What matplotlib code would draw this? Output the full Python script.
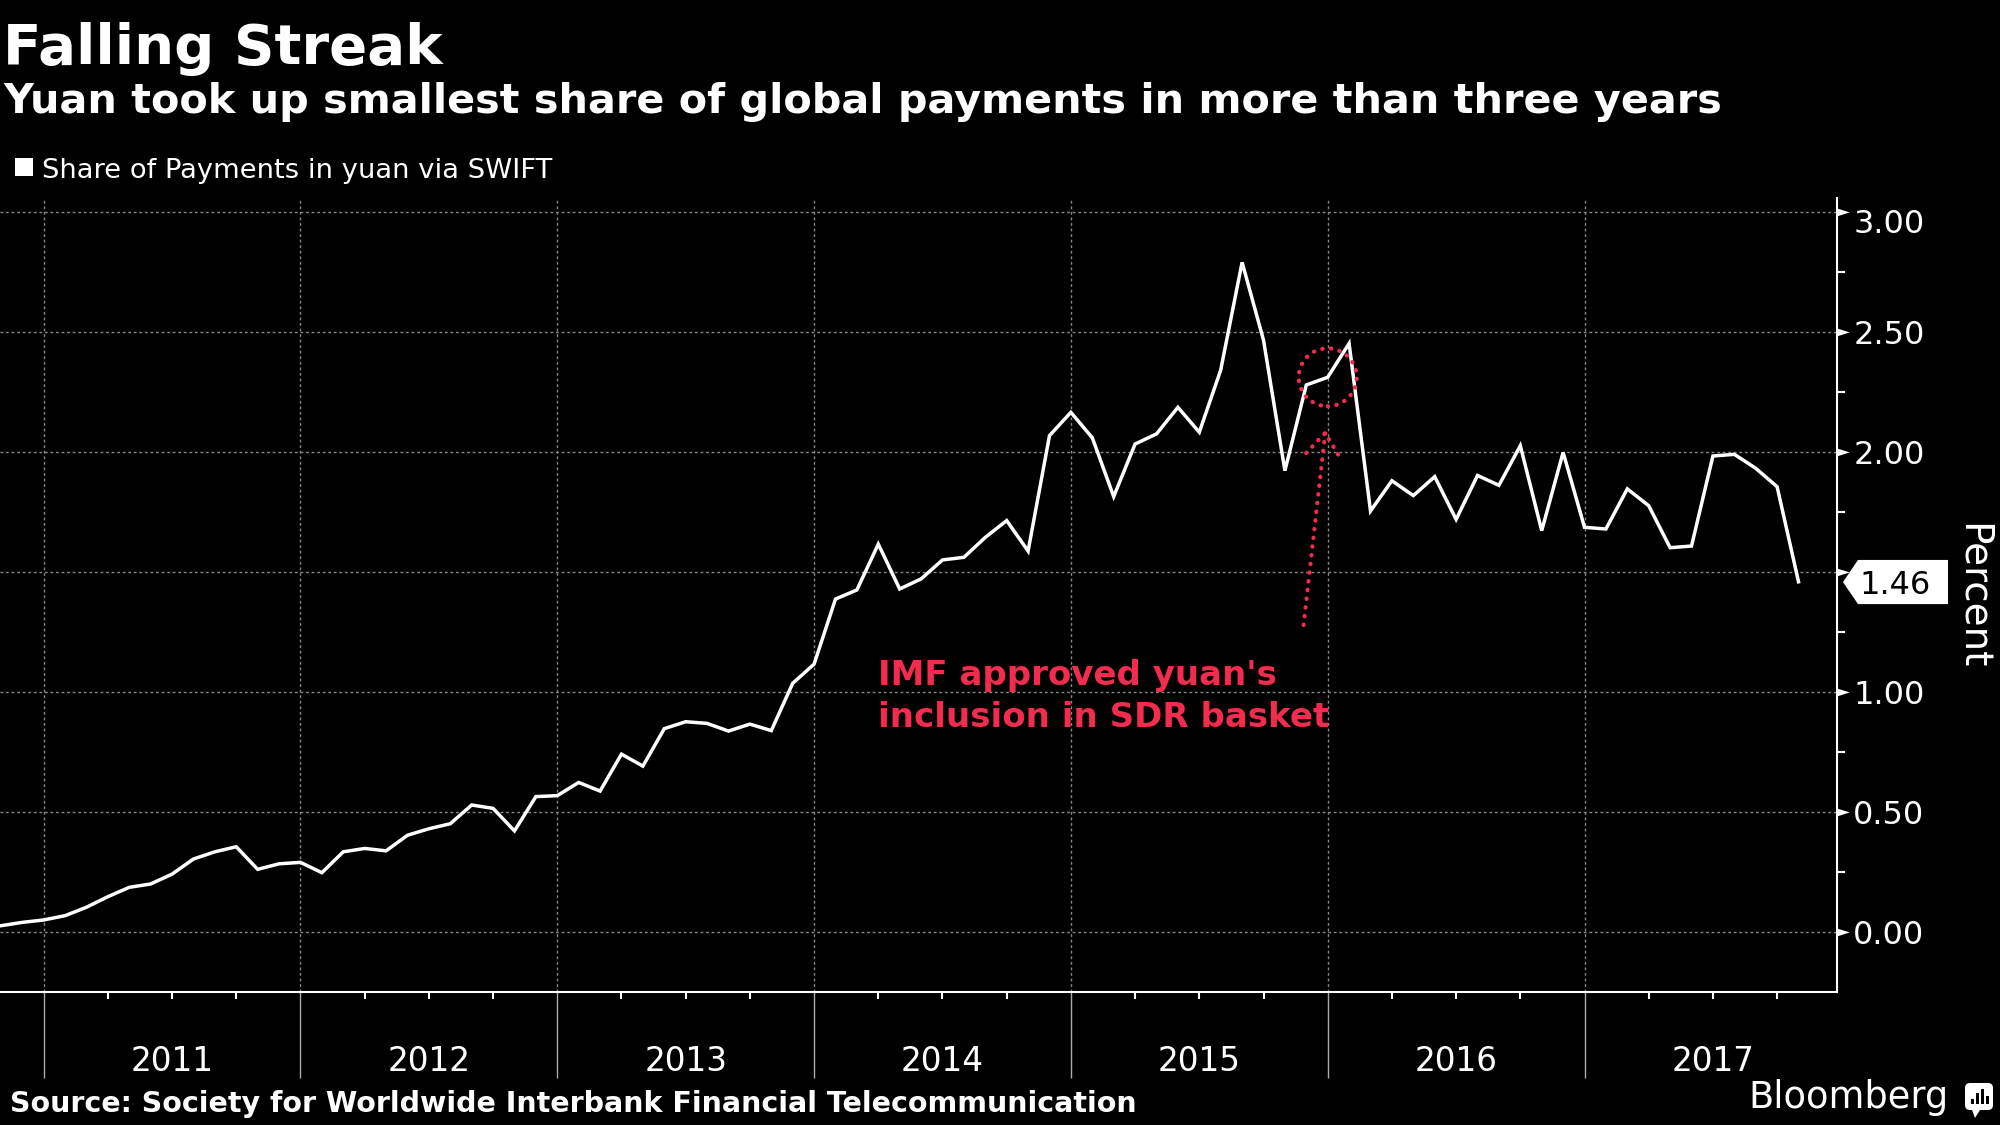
import numpy as np
import pandas as pd
import matplotlib
matplotlib.use("Agg")
import matplotlib.pyplot as plt
from matplotlib.patches import Polygon, Ellipse, Rectangle, FancyBboxPatch
from matplotlib.transforms import blended_transform_factory, ScaledTranslation

# Monthly share of payments in yuan via SWIFT (%), Nov 2010 - Nov 2017
dates = pd.date_range("2010-11-01", periods=85, freq="MS")
share = [
    0.028, 0.042, 0.052, 0.070, 0.105, 0.149, 0.188, 0.202, 0.243, 0.306,
    0.336, 0.357, 0.263, 0.286, 0.292, 0.249, 0.336, 0.350, 0.340, 0.405,
    0.432, 0.453, 0.531, 0.517, 0.423, 0.566, 0.570, 0.625, 0.589, 0.743,
    0.693, 0.849, 0.878, 0.871, 0.839, 0.868, 0.841, 1.038, 1.118, 1.389,
    1.427, 1.618, 1.431, 1.473, 1.552, 1.563, 1.646, 1.716, 1.589, 2.070,
    2.167, 2.061, 1.816, 2.035, 2.077, 2.188, 2.084, 2.343, 2.792, 2.468,
    1.924, 2.281, 2.313, 2.454, 1.756, 1.882, 1.820, 1.899, 1.721, 1.904,
    1.863, 2.028, 1.674, 2.000, 1.688, 1.681, 1.848, 1.778, 1.603, 1.610,
    1.985, 1.992, 1.934, 1.857, 1.461,
]
year_labels = [2011, 2012, 2013, 2014, 2015, 2016, 2017]
y_ticks = [0.0, 0.5, 1.0, 1.5, 2.0, 2.5, 3.0]
last_value = 1.46
imf_date = 2016.0
imf_value = 2.313

RED = "#f22c4e"
GRID = "#888888"

x = np.array(dates.year + (dates.month - 1) / 12.0)

W, H = 2000, 1125
fig = plt.figure(figsize=(W / 100, H / 100), dpi=100, facecolor="black")
ax = fig.add_axes([0.0, 1 - 991.5 / H, 1836.7 / W, (991.5 - 198) / H])
ax.set_facecolor("black")

ax.plot(x, share, color="white", lw=2.5, zorder=3, solid_joinstyle="miter")

ax.set_xlim(2010.83, 2017.982)
ax.set_ylim(-0.246, 3.06)

# y axis on the right
ax.yaxis.tick_right()
ax.set_yticks(y_ticks)
ax.set_yticklabels([f"{v:.2f}" for v in y_ticks])
ax.set_yticks(np.arange(0.25, 3.0, 0.5), minor=True)
ax.tick_params(axis="y", which="major", direction="out", length=0,
               colors="white", labelsize=23, pad=12)
ax.tick_params(axis="y", which="minor", direction="out", length=6, width=1.5,
               colors="white")
# top label sits just under its tick
top_lab = ax.get_yticklabels()[-1]
top_lab.set_transform(top_lab.get_transform() + ScaledTranslation(0, -0.09, fig.dpi_scale_trans))

tr = blended_transform_factory(ax.transAxes, ax.transData)
# wedge-shaped major ticks
for v in y_ticks:
    ax.add_patch(Polygon([(1.0, v + 0.017), (1.0071, v), (1.0, v - 0.017)], closed=True,
                         transform=tr, fc="white", ec="none", clip_on=False, zorder=5))

# x axis: long year separators, short quarter ticks
ax.set_xticks(year_labels)
ax.set_xticklabels([])
quarters = [y + q for y in [2010] + year_labels for q in (0.25, 0.5, 0.75)]
ax.set_xticks([q for q in quarters if 2010.83 < q < 2017.98], minor=True)
ax.tick_params(axis="x", which="major", direction="out", length=62, width=1,
               color="#aaaaaa", labelbottom=False)
ax.tick_params(axis="x", which="minor", direction="out", length=5, width=1.5,
               color="white")

bt = blended_transform_factory(ax.transData, ax.transAxes)
for yr in year_labels:
    ax.text(yr + 0.5, -0.1, str(yr), transform=bt, ha="center", va="baseline",
            color="white", fontsize=23.5)

ax.grid(which="major", axis="both", color=GRID, linestyle=(0, (2, 2)), lw=1)

for s in ["left", "top"]:
    ax.spines[s].set_visible(False)
for s in ["bottom", "right"]:
    ax.spines[s].set_color("white")
    ax.spines[s].set_linewidth(1.5)

# last value tag
hh = 0.092
tag = Polygon([(1.0034, last_value), (1.0116, last_value + hh), (1.0606, last_value + hh),
               (1.0606, last_value - hh), (1.0116, last_value - hh)],
              closed=True, transform=tr, fc="white", ec="none", clip_on=False, zorder=10)
ax.add_patch(tag)
ax.text(1.0125, last_value, f"{last_value:.2f}", transform=tr, ha="left",
        va="center_baseline", color="black", fontsize=23, zorder=11, clip_on=False)

# IMF annotation
circle = Ellipse((imf_date, imf_value), 58 / 256.8, 58 / 240, fill=False, ec=RED,
                 lw=3, linestyle=(0, (0.1, 2.0)), zorder=4)
circle.set_capstyle("round")
ax.add_patch(circle)
ax.annotate("", xy=(2015.992, 2.096), xytext=(2015.906, 1.281),
            arrowprops=dict(arrowstyle="->,head_length=0.8,head_width=0.6",
                            color=RED, lw=3, linestyle=(0, (0.1, 2.0)),
                            shrinkA=0, shrinkB=0, mutation_scale=20,
                            capstyle="round"),
            zorder=4)
ax.text(2014.249, 1.031, "IMF approved yuan's", color=RED, fontsize=24.5,
        fontweight="bold", ha="left", va="baseline")
ax.text(2014.249, 0.856, "inclusion in SDR basket", color=RED, fontsize=24.5,
        fontweight="bold", ha="left", va="baseline")

# titles, legend, labels
def fy(px):
    return 1 - px / H

fig.text(3 / W, fy(64), "Falling Streak", color="white", fontsize=40.5,
         fontweight="bold", ha="left", va="baseline")
fig.text(3 / W, fy(113.5), "Yuan took up smallest share of global payments in more than three years",
         color="white", fontsize=29.8, fontweight="bold", ha="left", va="baseline")
fig.add_artist(Rectangle((15 / W, fy(176)), 18 / W, 18 / H, transform=fig.transFigure,
                         fc="white", ec="none"))
fig.text(42 / W, fy(178), "Share of Payments in yuan via SWIFT", color="white",
         fontsize=19.7, ha="left", va="baseline")
fig.text(1973 / W, fy(596), "Percent", color="white", fontsize=28, rotation=270,
         ha="center", va="center")
fig.text(10 / W, fy(1112), "Source: Society for Worldwide Interbank Financial Telecommunication",
         color="white", fontsize=20.5, fontweight="bold", ha="left", va="baseline")
fig.text(1748 / W, fy(1108), "Bloomberg", color="white", fontsize=26.5,
         ha="left", va="baseline")

# small logo icon
it = fig.dpi_scale_trans
fig.add_artist(FancyBboxPatch((19.65, (H - 1110) / 100), 0.28, 0.27,
                              boxstyle="round,pad=0,rounding_size=0.05",
                              transform=it, fc="white", ec="none"))
fig.add_artist(Polygon([(19.72, (H - 1110) / 100), (19.80, (H - 1110) / 100),
                        (19.75, (H - 1118) / 100)], closed=True, transform=it,
                       fc="white", ec="none"))
for bx, bh in [(19.71, 0.05), (19.76, 0.11), (19.81, 0.15), (19.86, 0.08)]:
    fig.add_artist(Rectangle((bx, (H - 1104) / 100), 0.03, bh, transform=it,
                             fc="black", ec="none"))

fig.savefig("out.png", dpi=100, facecolor="black")
